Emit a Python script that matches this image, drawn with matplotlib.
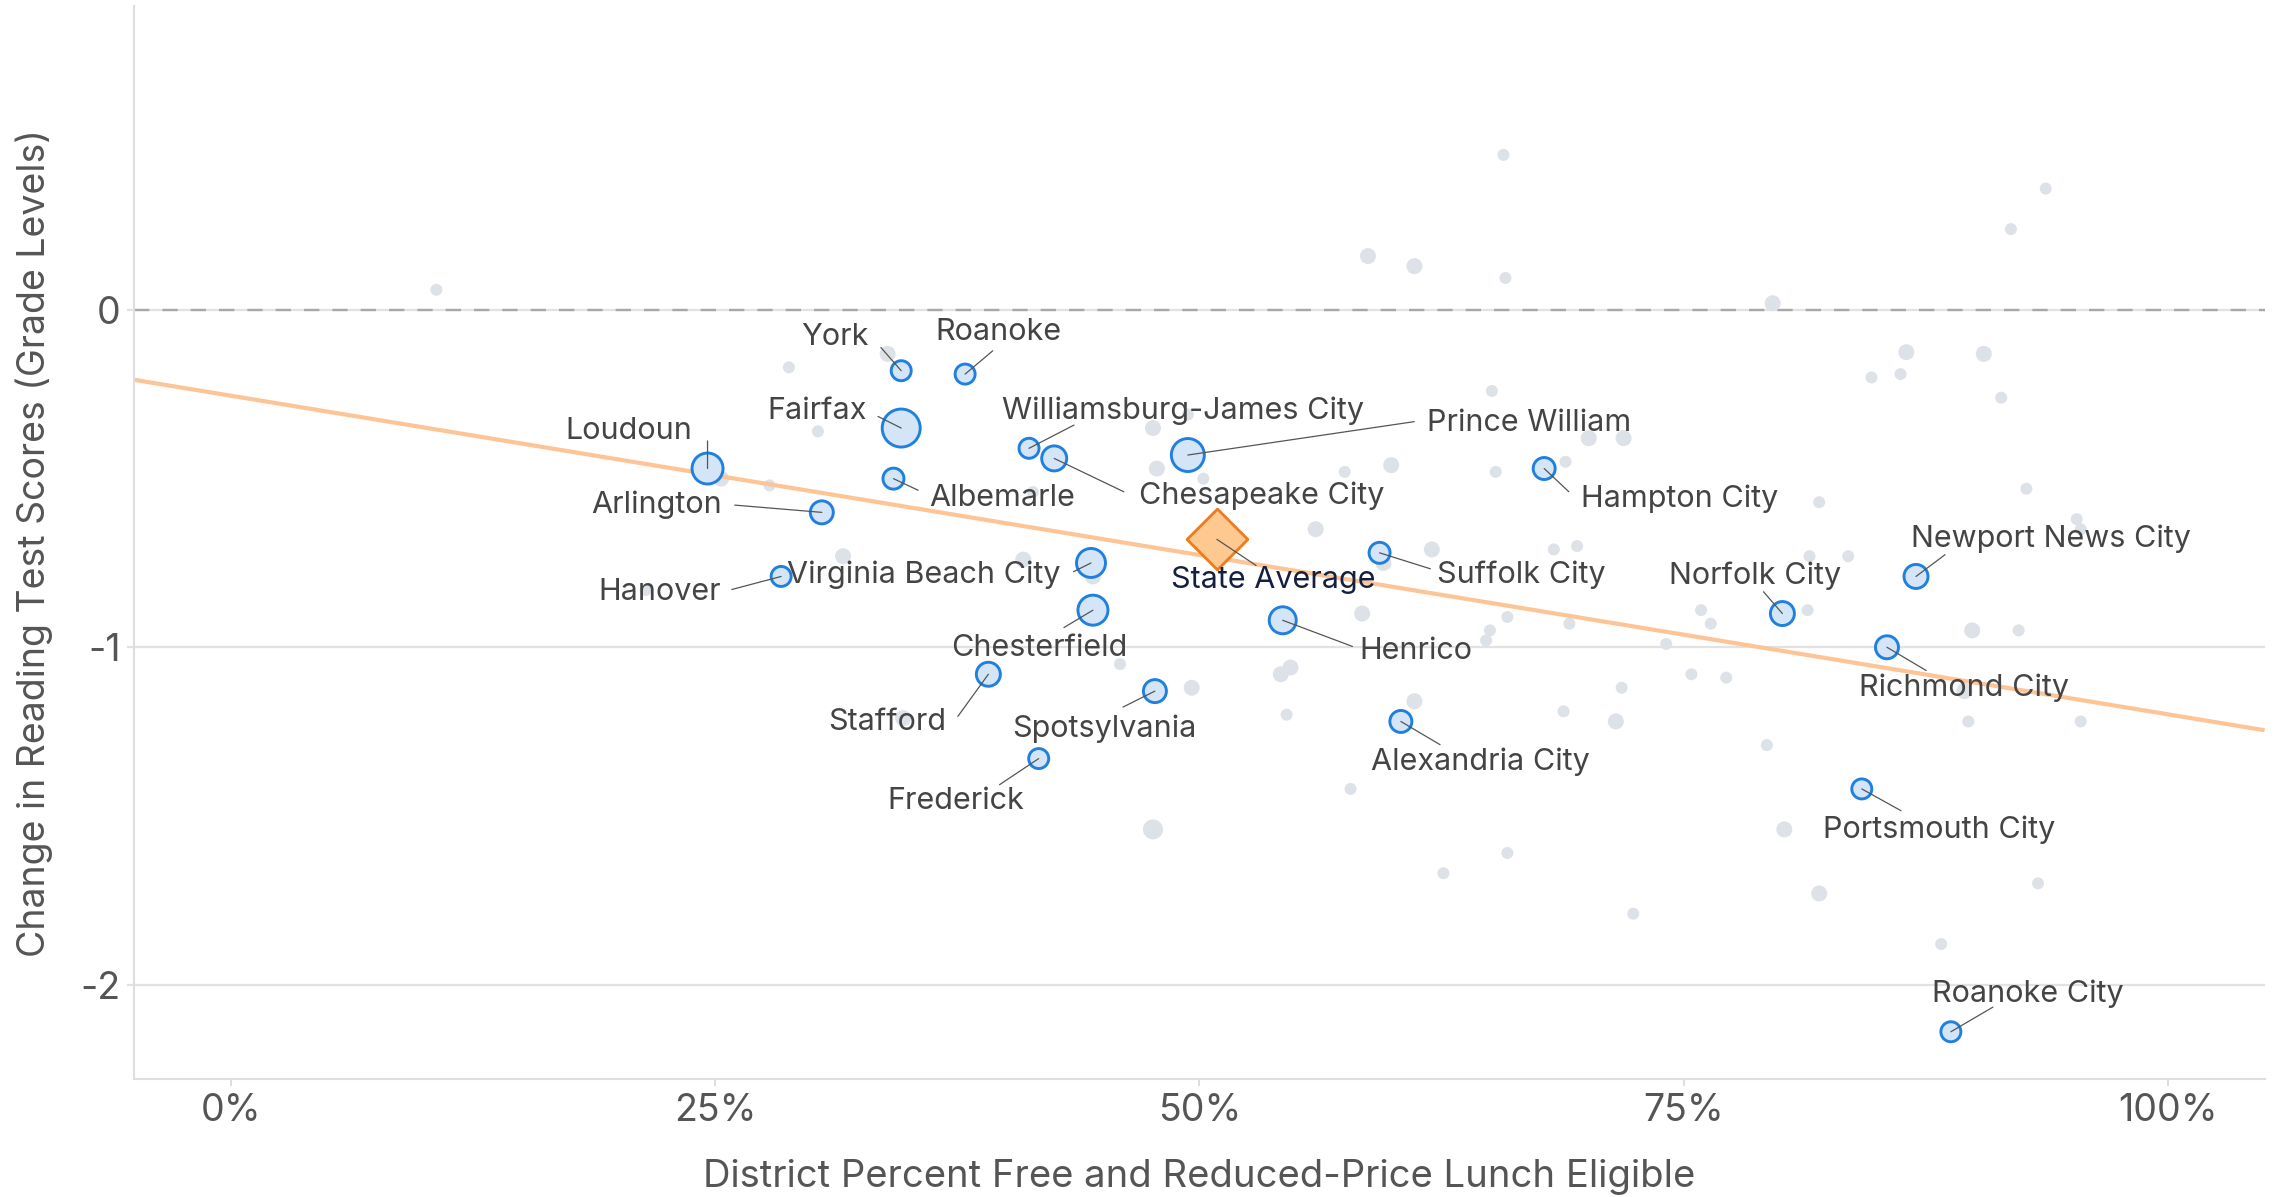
import matplotlib
matplotlib.use("Agg")
import matplotlib.pyplot as plt

plt.rcParams['font.family'] = ['Inter', 'DejaVu Sans']

# labelled districts: percent FRL eligible, change in reading score (grade levels)
districts = ['York', 'Roanoke', 'Fairfax', 'Loudoun', 'Williamsburg-James City',
             'Chesapeake City', 'Prince William', 'Albemarle', 'Arlington', 'Hampton City',
             'Hanover', 'Virginia Beach City', 'Chesterfield', 'Suffolk City', 'Henrico',
             'Norfolk City', 'Newport News City', 'Richmond City', 'Stafford', 'Spotsylvania',
             'Alexandria City', 'Frederick', 'Portsmouth City', 'Roanoke City']
district_frl = [34.6, 37.9, 34.6, 24.6, 41.2, 42.5, 49.4, 34.2, 30.5, 67.8,
                28.4, 44.4, 44.5, 59.3, 54.3, 80.1, 87.0, 85.5, 39.1, 47.7,
                60.4, 41.7, 84.2, 88.8]
district_change = [-0.18, -0.19, -0.35, -0.47, -0.41, -0.44, -0.43, -0.50, -0.60, -0.47,
                   -0.79, -0.75, -0.89, -0.72, -0.92, -0.90, -0.79, -1.00, -1.08, -1.13,
                   -1.22, -1.33, -1.42, -2.14]
district_dot = [20, 20, 38, 31, 20, 25, 33, 21, 23, 22,
                20, 29, 30, 21, 27, 24, 24, 23, 24, 23,
                22, 20, 20, 20]

# all other districts
other_frl = [10.6, 65.7, 93.7, 58.7, 61.1, 65.8, 79.6, 91.9, 86.5, 90.5,
             84.7, 86.2, 91.4, 65.1, 28.8, 30.3, 27.8, 33.9, 25.3, 31.6,
             40.9, 44.5, 21.4, 45.9, 34.7, 47.6, 49.4, 47.8, 50.2, 57.5,
             59.9, 65.3, 56.0, 62.0, 41.4, 58.4, 65.0, 65.9, 64.8, 54.2,
             54.7, 49.6, 54.5, 61.1, 57.8, 47.6, 70.1, 71.9, 68.9, 92.7,
             82.0, 95.3, 68.3, 69.5, 81.5, 83.5, 59.5, 69.1, 75.9, 76.4,
             81.4, 74.1, 89.9, 92.3, 75.4, 77.2, 71.8, 68.8, 71.5, 89.7,
             95.5, 79.3, 89.5, 65.9, 62.6, 80.2, 82.0, 93.3, 72.4, 88.3, 95.5]
other_change = [0.06, 0.46, 0.36, 0.16, 0.13, 0.095, 0.02, 0.24, -0.125, -0.13,
                -0.20, -0.19, -0.26, -0.24, -0.17, -0.36, -0.52, -0.13, -0.50, -0.73,
                -0.74, -0.79, -0.83, -1.05, -1.21, -0.35, -0.31, -0.47, -0.50, -0.48,
                -0.46, -0.48, -0.65, -0.71, -0.54, -0.90, -0.95, -0.91, -0.98, -1.08,
                -1.06, -1.12, -1.20, -1.16, -1.42, -1.54, -0.38, -0.38, -0.45, -0.53,
                -0.57, -0.62, -0.71, -0.70, -0.73, -0.73, -0.75, -0.93, -0.89, -0.93,
                -0.89, -0.99, -0.95, -0.95, -1.08, -1.09, -1.12, -1.19, -1.22, -1.22,
                -1.22, -1.29, -1.13, -1.61, -1.67, -1.54, -1.73, -1.70, -1.79, -1.88, -0.65]
other_dot = [12, 12, 12, 16, 16, 12, 16, 12, 16, 16,
             12, 12, 12, 12, 12, 12, 12, 16, 16, 16,
             16, 16, 12, 12, 16, 16, 12, 16, 12, 12,
             16, 12, 16, 16, 12, 16, 12, 12, 12, 16,
             16, 16, 12, 16, 12, 20, 16, 16, 12, 12,
             12, 12, 12, 12, 12, 12, 16, 12, 12, 12,
             12, 12, 16, 12, 12, 12, 12, 12, 16, 12,
             12, 12, 16, 12, 12, 16, 16, 12, 12, 12, 12]

state_frl = 50.9
state_change = -0.68

trend_x = [-5, 105]
trend_y = [-0.207, -1.246]

x_ticks = [0, 25, 50, 75, 100]
x_ticklabels = ['0%', '25%', '50%', '75%', '100%']
y_ticks = [0, -1, -2]
y_ticklabels = ['0', '-1', '-2']

# label layout: (text offset, leader line end offset), in screen px of the preview
label_layout = {
    'York': ((-46, 23), (-14, 16)),
    'Roanoke': ((23, 29), (19, 16)),
    'Fairfax': ((-58, 12), (-16, 8)),
    'Loudoun': ((-54, 26), (0, 19)),
    'Williamsburg-James City': ((106, 26), (31, 16)),
    'Chesapeake City': ((143, -26), (48, -23)),
    'Prince William': ((235, 22), (156, 23)),
    'Albemarle': ((75, -13), (17, -8)),
    'Arlington': ((-114, 5), (-60, 5)),
    'Hampton City': ((93, -21), (17, -16)),
    'Hanover': ((-84, -11), (-34, -9)),
    'Virginia Beach City': ((-115, -8), (-12, -6)),
    'Chesterfield': ((-37, -26), (-20, -12)),
    'Suffolk City': ((98, -15), (35, -11)),
    'Henrico': ((92, -21), (48, -18)),
    'Norfolk City': ((-19, 26), (-13, 15)),
    'Newport News City': ((93, 26), (20, 15)),
    'Richmond City': ((53, -28), (27, -16)),
    'Stafford': ((-70, -33), (-21, -29)),
    'Spotsylvania': ((-35, -26), (-22, -11)),
    'Alexandria City': ((55, -28), (27, -16)),
    'Frederick': ((-57, -29), (-27, -18)),
    'Portsmouth City': ((53, -28), (27, -15)),
    'Roanoke City': ((53, 26), (29, 17)),
}
PX = 1.045  # preview px -> points
PX2PT = 0.72

fig = plt.figure(figsize=(22.76, 11.97), dpi=100)
ax = fig.add_axes([0.059, 0.0986, 0.936, 0.896])
ax.set_xlim(-5, 105)
ax.set_ylim(-2.28, 0.9)

for yv in y_ticks:
    ax.axhline(yv, color='#e2e2e2', lw=1.6, zorder=0)
ax.axhline(0, color='#a8a8a8', lw=1.7, dashes=(6.5, 5.5), zorder=0.5)

ax.scatter(other_frl, other_change, s=[(d * PX2PT) ** 2 for d in other_dot],
           color='#dde2e8', edgecolors='none', zorder=1)
ax.plot(trend_x, trend_y, color='#fdc496', lw=3.0, zorder=2, solid_capstyle='butt')
ax.scatter(district_frl, district_change, s=[(d * PX2PT) ** 2 for d in district_dot],
           facecolor='#d3e5f7', edgecolors='#1f80e0', linewidths=2.1, zorder=3)
ax.scatter([state_frl], [state_change], marker='D', s=(43 * PX2PT) ** 2,
           facecolor='#fec891', edgecolors='#f07a1c', linewidths=2.0, zorder=4)

for name, xv, yv in zip(districts, district_frl, district_change):
    (tx, ty), (lx, ly) = label_layout[name]
    ax.annotate('', xy=(xv, yv), xytext=(lx * PX, ly * PX), textcoords='offset points',
                arrowprops=dict(arrowstyle='-', color='#555555', lw=0.9,
                                shrinkA=0, shrinkB=0), zorder=5)
    ax.annotate(name, xy=(xv, yv), xytext=(tx * PX, ty * PX), textcoords='offset points',
                ha='center', va='center', fontsize=22, color='#444444', zorder=6)

ax.annotate('', xy=(state_frl, state_change), xytext=(27 * PX, -18 * PX),
            textcoords='offset points',
            arrowprops=dict(arrowstyle='-', color='#555555', lw=0.9, shrinkA=0, shrinkB=0),
            zorder=5)
ax.annotate('State Average', xy=(state_frl, state_change), xytext=(39 * PX, -28 * PX),
            textcoords='offset points', ha='center', va='center', fontsize=22,
            color='#15203f', zorder=6)

ax.set_xticks(x_ticks)
ax.set_xticklabels(x_ticklabels)
ax.set_yticks(y_ticks)
ax.set_yticklabels(y_ticklabels)
ax.tick_params(axis='x', length=5, width=1.4, color='#dddddd', pad=5,
               labelsize=27, labelcolor='#555555')
ax.tick_params(axis='y', length=5, width=1.6, color='#e2e2e2', pad=5,
               labelsize=27, labelcolor='#555555')

for side in ['top', 'right']:
    ax.spines[side].set_visible(False)
for side in ['left', 'bottom']:
    ax.spines[side].set_color('#dedede')
    ax.spines[side].set_linewidth(1.5)

ax.set_xlabel('District Percent Free and Reduced-Price Lunch Eligible',
              fontsize=27.5, color='#555555')
ax.set_ylabel('Change in Reading Test Scores (Grade Levels)',
              fontsize=27, color='#555555')
ax.xaxis.set_label_coords(0.5, -0.075)
ax.yaxis.set_label_coords(-0.0383, 0.5)

fig.savefig('out.png', dpi=100)
